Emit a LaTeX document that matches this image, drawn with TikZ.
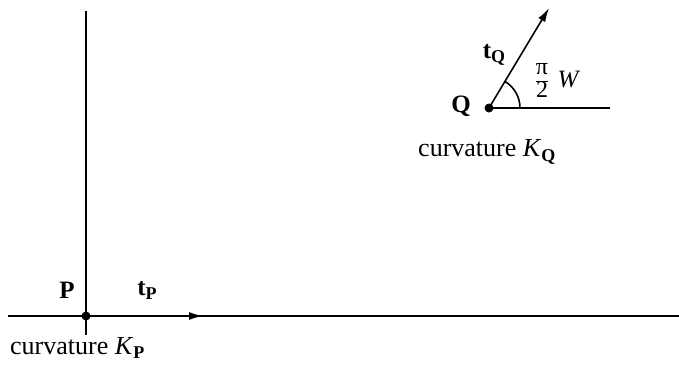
\documentclass[tikz,border=0pt]{standalone}
\usepackage{fontspec}
\setmainfont{Liberation Serif}
\usetikzlibrary{arrows.meta}
\newcommand{\subb}[1]{\raisebox{-0.35ex}{\fontsize{18}{18}\selectfont\bfseries #1}}
\begin{document}
\begin{tikzpicture}[x=1pt,y=-1pt,
  ln/.style={line width=1.6pt},
  lbl/.style={font=\fontsize{25}{27}\selectfont, inner sep=0pt},
  big/.style={font=\fontsize{26}{28}\selectfont, inner sep=0pt},
  dotc/.style={circle, fill=black, inner sep=0pt, minimum size=9pt},
  tip/.style={-{Latex[length=14pt,width=8pt]}}]
\useasboundingbox (0,0) rectangle (679,370);
% P side
\coordinate (vt) at (86,11);
\coordinate (vb) at (86,335);
\coordinate (hl) at (8,316);
\coordinate (hr) at (679,316);
\coordinate (pa) at (203,316);
\draw[ln] (vt) -- (vb);
\draw[ln] (hl) -- (hr);
\node[dotc] (P) at (86,316) {};
\draw[ln, tip] (P.center) -- (pa);
\node[lbl] (Plab) at (67,290) {\bfseries P};
\node[lbl] (tPlab) at (147,290) {\bfseries t\subb{P}};
\node[big, anchor=west] (curvP) at (10,348) {curvature \textit{K}\subb{P}};
% Q side
\coordinate (qr) at (610,108);
\coordinate (qt) at (549,8);
\node[dotc] (Q) at (489,108) {};
\draw[ln] (Q.center) -- (qr);
\draw[ln, tip] (Q.center) -- (qt);
\draw[ln] ([shift={(31,0)}]Q.center) arc[start angle=0, end angle=-59, radius=31];
\node[lbl] (Qlab) at (461,106) {\bfseries Q};
\node[lbl] (tQlab) at (494,55) {\bfseries t\subb{Q}};
\node[inner sep=0pt, font=\fontsize{24}{26}\selectfont] (pi2) at (542,82)
  {\setlength{\arrayrulewidth}{1.2pt}\renewcommand{\arraystretch}{0.8}\begin{tabular}{@{}c@{}}π\\\hline 2\end{tabular}};
\node[lbl] (W) at (569,80) {\textit{W}};
\node[big, anchor=west] (curvQ) at (418,152) {curvature \textit{K}\subb{Q}};
\end{tikzpicture}
\end{document}
